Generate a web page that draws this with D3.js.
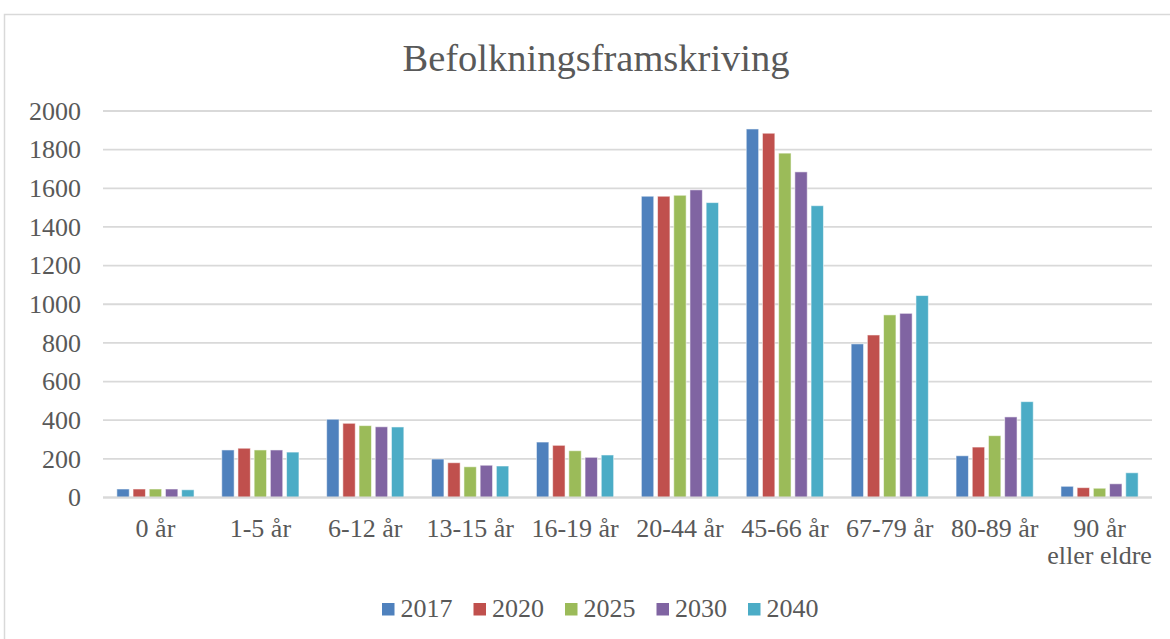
<!DOCTYPE html>
<html>
<head>
<meta charset="utf-8">
<script src="https://cdn.jsdelivr.net/npm/d3@7/dist/d3.min.js"></script>
<style>
  html, body { margin: 0; padding: 0; background: #fff; }
  svg { display: block; }
  text { font-family: "Liberation Serif", "Times New Roman", serif; fill: #595959; }
</style>
</head>
<body>
<svg id="chart" width="1170" height="639"></svg>
<script>
const categories = ["0 år", "1-5 år", "6-12 år", "13-15 år", "16-19 år", "20-44 år", "45-66 år", "67-79 år", "80-89 år", "90 år\neller eldre"];
const seriesNames = ["2017", "2020", "2025", "2030", "2040"];
const s2017 = [44, 246, 405, 199, 287, 1559, 1907, 795, 216, 58];
const s2020 = [44, 255, 384, 180, 270, 1559, 1885, 841, 261, 51];
const s2025 = [44, 246, 372, 159, 242, 1564, 1782, 945, 320, 48];
const s2030 = [44, 246, 366, 167, 208, 1592, 1685, 953, 417, 71];
const s2040 = [40, 235, 365, 163, 220, 1526, 1510, 1045, 496, 128];
const yTicks = [0, 200, 400, 600, 800, 1000, 1200, 1400, 1600, 1800, 2000];
const colors = ["#4F81BD", "#C0504D", "#9BBB59", "#8064A2", "#4BACC6"];
const title = "Befolkningsframskriving";

const seriesValues = [s2017, s2020, s2025, s2030, s2040];
const svg = d3.select("#chart");

// chart frame
svg.append("rect").attr("x", 4.5).attr("y", 14.5).attr("width", 1200).attr("height", 700)
  .attr("fill", "none").attr("stroke", "#d9d9d9").attr("stroke-width", 1.5);

const x0 = d3.scaleBand().domain(categories).range([103, 1152]).padding(0);
const x1 = d3.scaleBand().domain(seriesNames).range([0, x0.bandwidth()]).paddingInner(0.235).paddingOuter(0.855);
const y = d3.scaleLinear().domain([0, 2000]).range([497.5, 111]);

// gridlines
svg.append("g").selectAll("line").data(yTicks).join("line")
  .attr("x1", 103).attr("x2", 1152)
  .attr("y1", d => y(d)).attr("y2", d => y(d))
  .attr("stroke", "#d9d9d9").attr("stroke-width", 1.8);

// y axis labels
const yAxis = d3.axisLeft(y).tickValues(yTicks).tickSize(0).tickPadding(0).tickFormat(d3.format("d"));
const yg = svg.append("g").attr("transform", "translate(81,0)").call(yAxis);
yg.select(".domain").remove();
yg.selectAll("text").attr("font-size", 26).attr("fill", "#595959")
  .attr("font-family", "Liberation Serif, serif").attr("dy", "0.32em");

// bars
const data = categories.map((c, i) => ({ cat: c, vals: seriesNames.map((s, j) => ({ s, v: seriesValues[j][i], j })) }));
const groups = svg.append("g").selectAll("g").data(data).join("g")
  .attr("transform", d => `translate(${x0(d.cat)},0)`);
groups.selectAll("rect").data(d => d.vals).join("rect")
  .attr("x", d => x1(d.s))
  .attr("width", x1.bandwidth())
  .attr("y", d => y(d.v))
  .attr("height", d => y(0) - y(d.v))
  .attr("fill", d => colors[d.j])
  .attr("stroke", "rgba(255,255,255,0.55)").attr("stroke-width", 1);

// x axis baseline
svg.append("line").attr("x1", 103).attr("x2", 1152).attr("y1", y(0)).attr("y2", y(0))
  .attr("stroke", "#d9d9d9").attr("stroke-width", 1.8);

// x labels
const xl = svg.append("g").selectAll("text").data(categories).join("text")
  .attr("text-anchor", "middle").attr("font-size", 26)
  .attr("transform", d => `translate(${x0(d) + x0.bandwidth() / 2},537)`);
xl.selectAll("tspan").data(d => d.split("\n")).join("tspan")
  .attr("x", 0).attr("dy", (d, i) => i === 0 ? 0 : 26.5).text(d => d);

// title
svg.append("text").attr("x", 596).attr("y", 71).attr("text-anchor", "middle")
  .attr("font-size", 38.5).text(title);

// legend
const legendX = [382, 473.5, 565, 656.5, 748];
const lg = svg.append("g").selectAll("g").data(seriesNames).join("g")
  .attr("transform", (d, i) => `translate(${legendX[i]},0)`);
lg.append("rect").attr("x", 0).attr("y", 603).attr("width", 12.5).attr("height", 12.5)
  .attr("fill", (d, i) => colors[i]);
lg.append("text").attr("x", 18.5).attr("y", 617).attr("font-size", 26).text(d => d);
</script>
</body>
</html>
